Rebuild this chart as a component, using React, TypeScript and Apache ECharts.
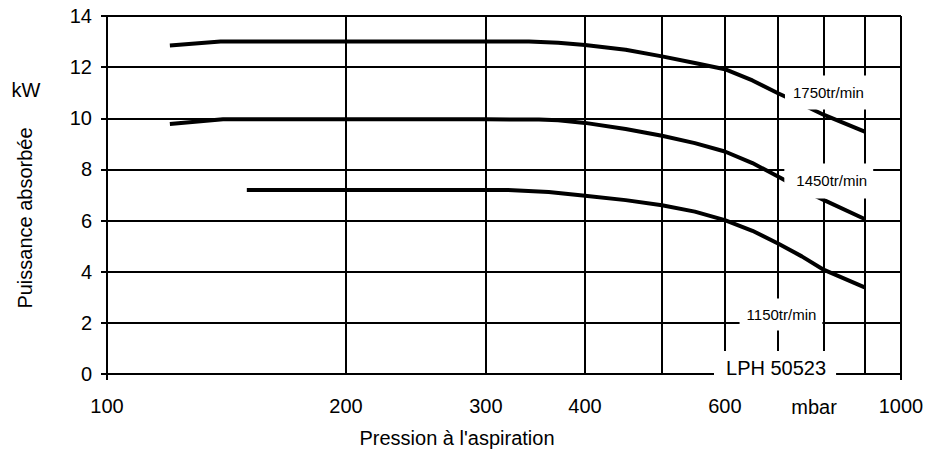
import React, { useEffect, useRef } from "react";
import * as echarts from "echarts";

// ---- data ----
const X_GRID_VALUES = [100, 200, 300, 400, 500, 600, 700, 800, 900, 1000];
const X_TICK_LABELS = [100, 200, 300, 400, 600, 1000];
const Y_MIN = 0;
const Y_MAX = 14;
const Y_STEP = 2;

const s1750: [number, number][] = [
  [120, 12.85], [139, 13.0], [200, 13.0], [300, 13.0], [340, 13.0], [370, 12.95],
  [400, 12.87], [450, 12.68], [500, 12.42], [550, 12.16], [600, 11.92], [650, 11.48],
  [700, 10.98], [750, 10.55], [800, 10.13], [900, 9.48],
];
const s1450: [number, number][] = [
  [120, 9.78], [140, 9.96], [200, 9.96], [300, 9.96], [350, 9.95], [370, 9.92],
  [400, 9.82], [450, 9.58], [500, 9.32], [550, 9.03], [600, 8.7], [650, 8.25],
  [700, 7.72], [750, 7.22], [800, 6.8], [900, 6.06],
];
const s1150: [number, number][] = [
  [150, 7.2], [200, 7.2], [320, 7.2], [360, 7.12], [400, 6.97], [450, 6.8],
  [500, 6.6], [550, 6.35], [600, 6.02], [650, 5.6], [700, 5.1], [750, 4.6],
  [800, 4.07], [900, 3.39],
];

const LABEL_TEXTS = ["1750tr/min", "1450tr/min", "1150tr/min", "LPH 50523"];
const LABEL_ANCHORS: [number, number][] = [[809, 11.01], [811, 7.55], [706, 2.33], [694, 0.25]];

const FONT = "'Liberation Sans', Arial, sans-serif";

export default function App() {
  const ref = useRef<HTMLDivElement>(null);
  useEffect(() => {
    if (!ref.current) return;
    const chart = echarts.init(ref.current, null, { renderer: "svg" });
    const black = "#000";

    const labelStyles = [
      { fontSize: 15, lineHeight: 15, padding: [15, 7, 4, 8] },
      { fontSize: 15, lineHeight: 15, padding: [16, 6, 4, 12] },
      { fontSize: 15, lineHeight: 15, padding: [1, 6, 16, 7] },
      { fontSize: 20, lineHeight: 20, padding: [9, 10, 4, 12] },
    ];

    const markData = LABEL_TEXTS.map((t, i) => ({
      coord: LABEL_ANCHORS[i],
      symbol: "circle",
      symbolSize: 0,
      itemStyle: { color: "transparent" },
      label: {
        show: true,
        position: "inside",
        formatter: t,
        color: black,
        fontFamily: FONT,
        backgroundColor: "#fff",
        ...labelStyles[i],
      },
    }));

    const lineSeries = (name: string, data: [number, number][]) => ({
      name,
      type: "line",
      data,
      symbol: "none",
      smooth: false,
      lineStyle: { color: black, width: 4 },
      z: 2,
    });

    chart.setOption({
      animation: false,
      backgroundColor: "#fff",
      grid: { left: 107, right: 28, top: 16, bottom: 79, containLabel: false },
      xAxis: [
        {
          type: "log",
          logBase: 10,
          min: 100,
          max: 1000,
          axisLine: { show: true, lineStyle: { color: black, width: 2 } },
          axisTick: { show: false, customValues: X_GRID_VALUES },
          axisLabel: {
            show: true,
            customValues: X_TICK_LABELS,
            formatter: (v: number) => String(v),
            margin: 22,
            fontSize: 20,
            color: black,
            fontFamily: FONT,
          },
          splitLine: { show: true, lineStyle: { color: black, width: 2 } },
        },
        {
          type: "log",
          logBase: 10,
          min: 100,
          max: 1000,
          position: "bottom",
          axisLine: { show: false },
          axisTick: { show: true, length: 6, lineStyle: { color: black, width: 2 } },
          axisLabel: { show: false },
          splitLine: { show: false },
        },
      ],
      yAxis: {
        type: "value",
        min: Y_MIN,
        max: Y_MAX,
        interval: Y_STEP,
        axisLine: { show: true, lineStyle: { color: black, width: 2 } },
        axisTick: { show: true, length: 6, lineStyle: { color: black, width: 2 } },
        axisLabel: { margin: 15, fontSize: 20, color: black, fontFamily: FONT },
        splitLine: { show: true, lineStyle: { color: black, width: 2 } },
      },
      graphic: [
        {
          type: "text",
          x: 26,
          y: 90,
          style: { text: "kW", fontSize: 20, fontFamily: FONT, fill: black, align: "center", verticalAlign: "middle" },
        },
        {
          type: "text",
          x: 25,
          y: 218,
          rotation: Math.PI / 2,
          style: { text: "Puissance absorbée", fontSize: 20, fontFamily: FONT, fill: black, align: "center", verticalAlign: "middle" },
        },
        {
          type: "text",
          x: 457,
          y: 438,
          style: { text: "Pression à l'aspiration", fontSize: 20, fontFamily: FONT, fill: black, align: "center", verticalAlign: "middle" },
        },
        {
          type: "text",
          x: 814,
          y: 407,
          style: { text: "mbar", fontSize: 20, fontFamily: FONT, fill: black, align: "center", verticalAlign: "middle" },
        },
      ],
      series: [
        lineSeries("1750tr/min", s1750),
        lineSeries("1450tr/min", s1450),
        {
          ...lineSeries("1150tr/min", s1150),
          markPoint: { z: 5, silent: true, data: markData },
        },
      ],
    });
    return () => chart.dispose();
  }, []);

  return (
    <div
      ref={ref}
      style={{ position: "fixed", left: 0, top: 0, width: 929, height: 453, background: "#fff" }}
    />
  );
}
